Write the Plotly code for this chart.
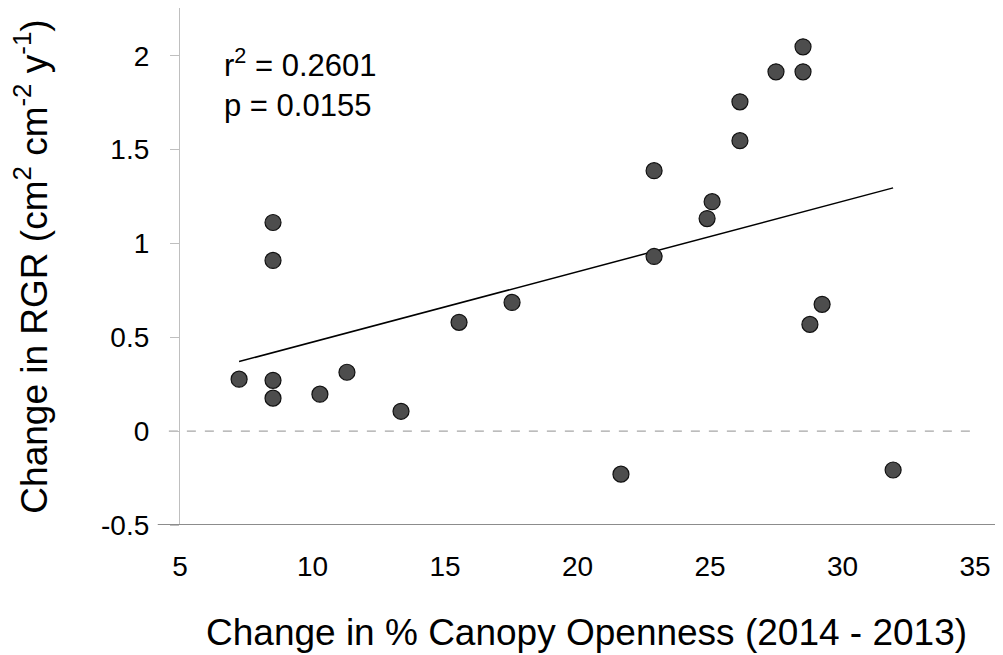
import numpy as np
import plotly.graph_objects as go

# Data
canopy_change = [7.23, 8.51, 8.51, 8.51, 8.51, 10.28, 11.30, 13.34, 15.53, 17.53,
                 21.64, 22.89, 22.89, 24.89, 25.08, 26.13, 26.13, 27.49, 28.51,
                 28.51, 28.77, 29.23, 31.91]
rgr_change = [0.277, 1.112, 0.910, 0.271, 0.176, 0.197, 0.314, 0.106, 0.580, 0.686,
              -0.229, 1.388, 0.931, 1.133, 1.223, 1.755, 1.548, 1.915, 2.048,
              1.915, 0.569, 0.676, -0.207]
x_ticks = [5, 10, 15, 20, 25, 30, 35]
y_ticks = [-0.5, 0, 0.5, 1, 1.5, 2]
y_tick_labels = ["-0.5", "0", "0.5", "1", "1.5", "2"]
stats_text = "r<sup>2</sup> = 0.2601<br>p = 0.0155"
x_title = "Change in % Canopy Openness (2014 - 2013)"
y_title = "Change in RGR (cm<sup>2</sup> cm<sup>-2</sup> y<sup>-1</sup>)"

x = np.array(canopy_change)
y = np.array(rgr_change)
slope, intercept = np.polyfit(x, y, 1)
fit_x = np.array([x.min(), x.max()])
fit_y = slope * fit_x + intercept

FONT = "Liberation Sans, Arial, sans-serif"

fig = go.Figure()
fig.add_trace(go.Scatter(
    x=fit_x, y=fit_y, mode="lines",
    line=dict(color="black", width=1.5), hoverinfo="skip", showlegend=False))
fig.add_trace(go.Scatter(
    x=canopy_change, y=rgr_change, mode="markers",
    marker=dict(size=16, color="#4d4d4d", line=dict(color="#111111", width=1.2)),
    showlegend=False))

# dashed zero line
fig.add_shape(type="line", xref="paper", yref="y", x0=-0.014, x1=1.004, y0=0, y1=0,
              line=dict(color="#a6a6a6", width=1.2, dash="dash"), layer="below")
# bottom axis line (darker, extends across)
fig.add_shape(type="line", xref="paper", yref="y", x0=-0.028, x1=1.04, y0=-0.5, y1=-0.5,
              line=dict(color="#8c8c8c", width=2.2))

fig.add_annotation(xref="paper", yref="paper", x=0.053, y=0.937, xanchor="left",
                   yanchor="top", text=stats_text, showarrow=False, align="left",
                   font=dict(family=FONT, size=31, color="black"))

# x axis title (slightly right of centre, as in the reference)
fig.add_annotation(xref="paper", yref="paper", x=0.5113, y=0, xanchor="center",
                   yanchor="middle", yshift=-107, text=x_title, showarrow=False,
                   font=dict(family=FONT, size=37, color="black"))

fig.update_layout(
    width=995, height=647,
    margin=dict(l=172, r=28, t=0, b=130),
    plot_bgcolor="white", paper_bgcolor="white",
    font=dict(family=FONT, color="black"),
    xaxis=dict(
        range=[5, 35], tickvals=x_ticks, ticktext=[str(v) for v in x_ticks],
        showgrid=False, zeroline=False, showline=False, ticks="",
        ticklabelstandoff=22, automargin=False,
        tickfont=dict(family=FONT, size=28, color="black"),
    ),
    yaxis=dict(
        range=[-0.5, 2.255], tickvals=y_ticks, ticktext=y_tick_labels,
        showgrid=False, zeroline=False, showline=True, linecolor="#bfbfbf", linewidth=1.2,
        ticks="outside", ticklen=9, tickcolor="#bfbfbf", tickwidth=1.2,
        ticklabelstandoff=15, automargin=False,
        tickfont=dict(family=FONT, size=28, color="black"),
        title=dict(text=y_title,
                   font=dict(family=FONT, size=37, color="black"), standoff=44),
    ),
)

fig.write_html("out.html")
